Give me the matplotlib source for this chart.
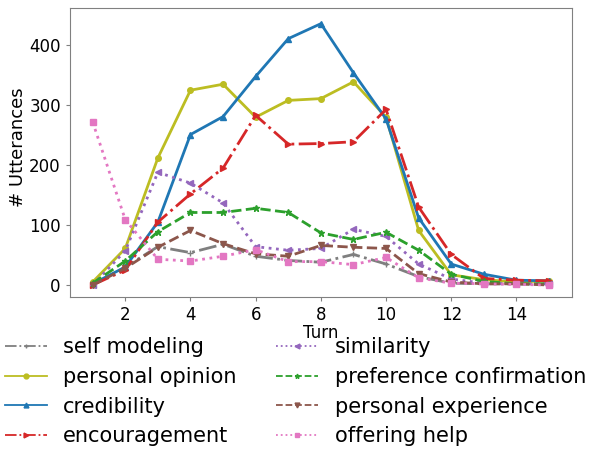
import matplotlib
matplotlib.use("Agg")
import matplotlib.pyplot as plt

turns = list(range(1, 16))

# utterance counts per turn for each strategy
self_modeling = [0, 30, 64, 54, 68, 48, 41, 38, 51, 35, 14, 3, 2, 2, 2]
personal_opinion = [5, 61, 212, 325, 335, 280, 308, 311, 339, 280, 91, 17, 9, 5, 7]
credibility = [2, 30, 105, 251, 281, 348, 411, 436, 354, 277, 112, 35, 18, 8, 7]
encouragement = [0, 25, 105, 152, 195, 283, 235, 236, 239, 293, 130, 51, 11, 8, 7]
similarity = [0, 57, 188, 170, 137, 64, 58, 61, 93, 81, 35, 10, 3, 2, 2]
preference_confirmation = [3, 40, 89, 121, 121, 128, 121, 87, 76, 88, 58, 18, 6, 2, 2]
personal_experience = [0, 28, 63, 91, 69, 52, 48, 66, 63, 61, 19, 5, 2, 2, 0]
offering_help = [272, 109, 43, 40, 48, 59, 39, 39, 34, 46, 12, 3, 2, 1, 0]

fig = plt.figure(figsize=(5.92, 4.5), dpi=100)
ax = fig.add_axes([0.118, 0.34, 0.848, 0.642])

ax.plot(turns, self_modeling, color="tab:gray", linestyle="-.", marker="+", lw=2, ms=5, label="self modeling")
ax.plot(turns, personal_opinion, color="tab:olive", linestyle="-", marker="o", lw=2, ms=4, label="personal opinion")
ax.plot(turns, credibility, color="tab:blue", linestyle="-", marker="^", lw=2, ms=4, label="credibility")
ax.plot(turns, encouragement, color="tab:red", linestyle="-.", marker=">", lw=2, ms=4, label="encouragement")
ax.plot(turns, similarity, color="tab:purple", linestyle=":", marker="<", lw=2, ms=4, label="similarity")
ax.plot(turns, preference_confirmation, color="tab:green", linestyle="--", marker="*", lw=2, ms=5, label="preference confirmation")
ax.plot(turns, personal_experience, color="tab:brown", linestyle="--", marker="v", lw=2, ms=4, label="personal experience")
ax.plot(turns, offering_help, color="tab:pink", linestyle=":", marker="s", lw=2, ms=4, label="offering help")

ax.set_xlim(0.3, 15.7)
ax.set_ylim(-20, 462)
ax.set_xticks([2, 4, 6, 8, 10, 12, 14])
ax.set_yticks([0, 100, 200, 300, 400])
ax.tick_params(labelsize=12, color="gray", length=3)
for s in ax.spines.values():
    s.set_color("gray")
ax.set_xlabel("Turn", fontsize=12, labelpad=0)
ax.set_ylabel("# Utterances", fontsize=13)
ax.yaxis.set_label_coords(-0.085, 0.517)

leg = fig.legend(loc="upper left", bbox_to_anchor=(5 / 592, 1 - 337 / 450), ncol=2, fontsize=15,
                 frameon=False, handlelength=2.0, handletextpad=0.8, columnspacing=1.9,
                 labelspacing=0.47, borderpad=0, borderaxespad=0)
for h in leg.get_lines():
    h.set_linewidth(1.3)
    h.set_markersize(3.5)

fig.savefig("out.png", dpi=100)
